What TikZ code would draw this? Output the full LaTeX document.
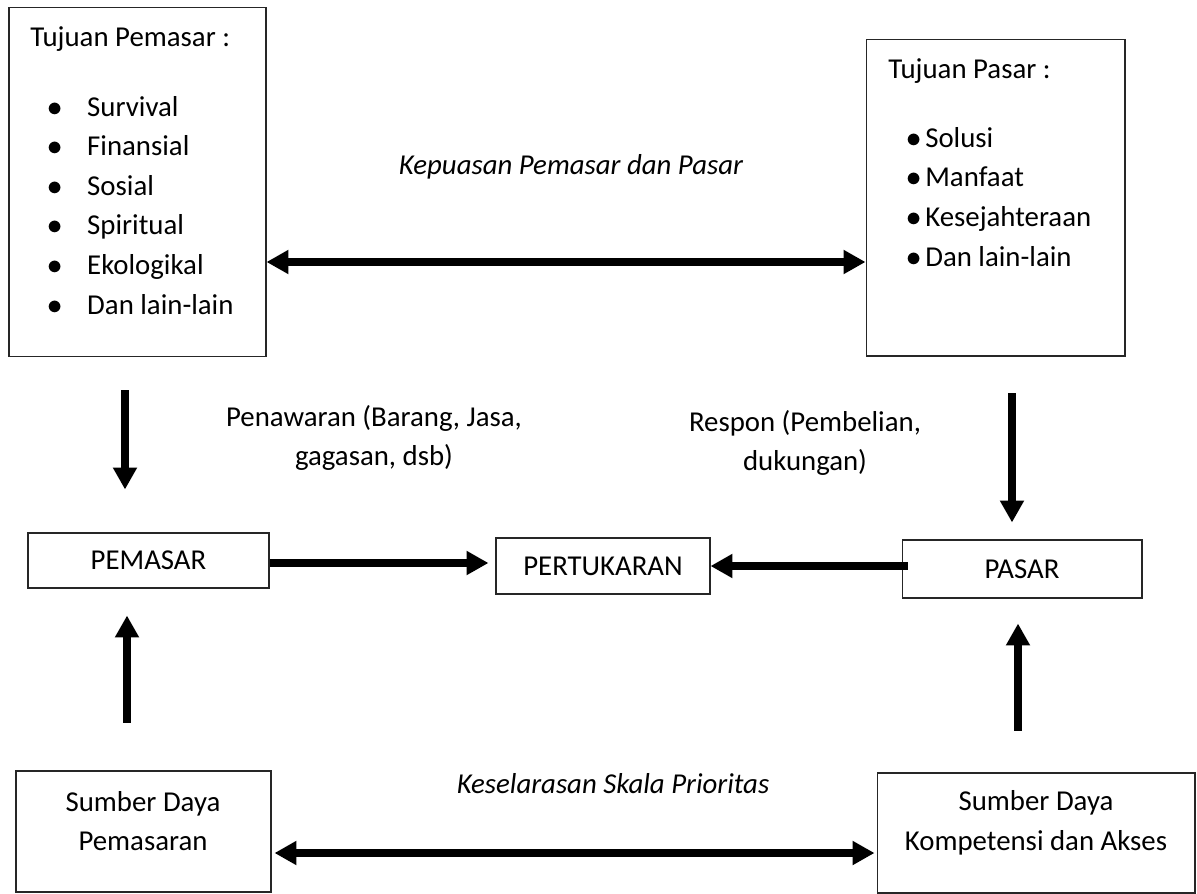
\documentclass[tikz,border=0pt]{standalone}
\usepackage{fontspec}
\setmainfont{Carlito}
\usepackage{tikz}
\usetikzlibrary{positioning, arrows.meta}
\newcommand{\blt}[1]{\makebox[#1][l]{$\bullet$}}
\tikzset{
    kotak/.style={draw=black!85, line width=0.6pt, rectangle, inner sep=0pt},% boxes are drawn empty, their text is set apart
    teks/.style={inner sep=0pt, font=\fontsize{16.4}{22.5}\selectfont},
    panah/.style={-{Triangle[length=12.5pt,width=13pt]}, line width=4.8pt},
    dua/.style={{Triangle[length=12.5pt,width=13pt]}-{Triangle[length=12.5pt,width=13pt]}, line width=4.2pt},
}
\begin{document}
\begin{tikzpicture}[x=0.02cm, y=-0.02cm]
    \useasboundingbox (0,0) rectangle (1197,893);
    % kotak atas
    \node[kotak, minimum width=5.14cm, minimum height=7cm] (tpemasar) at (137.5,182) {};
    \node[kotak, minimum width=5.18cm, minimum height=6.34cm] (tpasar) at (995.5,197.5) {};
    \node[teks, anchor=base west] (jpemasar) at (30,46) {Tujuan Pemasar :};
    \node[teks, anchor=base west] (jpasar) at (888,78) {Tujuan Pasar :};
    % base of a list node is the baseline of its last line
    \node[teks, anchor=base west, align=left] (lpemasar) at (47,314)
        {\blt{22.7pt}Survival\\ \blt{22.7pt}Finansial\\ \blt{22.7pt}Sosial\\
         \blt{22.7pt}Spiritual\\ \blt{22.7pt}Ekologikal\\ \blt{22.7pt}Dan lain-lain};
    \node[teks, anchor=base west, align=left] (lpasar) at (906,266)
        {\blt{10.8pt}Solusi\\ \blt{10.8pt}Manfaat\\ \blt{10.8pt}Kesejahteraan\\ \blt{10.8pt}Dan lain-lain};
    \node[teks, font=\fontsize{16.4}{22.5}\selectfont\itshape] (puas) at (571,167) {Kepuasan Pemasar dan Pasar};
    % kotak tengah
    \node[kotak, teks, minimum width=4.82cm, minimum height=1.10cm] (pemasar) at (148.5,560.5) {PEMASAR};
    \node[kotak, teks, minimum width=4.28cm, minimum height=1.12cm] (tukar) at (603,566) {PERTUKARAN};
    \node[kotak, teks, minimum width=4.80cm, minimum height=1.16cm] (pasar) at (1022,569) {PASAR};
    \node[teks, align=center] (tawar) at (374,438) {Penawaran (Barang, Jasa,\\gagasan, dsb)};
    \node[teks, align=center] (respon) at (805,443) {Respon (Pembelian,\\dukungan)};
    % kotak bawah
    \node[kotak, minimum width=5.10cm, minimum height=2.42cm] (sdpemasar) at (143.5,831.5) {};
    \node[kotak, minimum width=6.36cm, minimum height=2.40cm] (sdkomp) at (1036,833) {};
    \node[teks, align=center] (tsdpemasar) at (143,821) {Sumber Daya\\Pemasaran};
    \node[teks, align=center] (tsdkomp) at (1036,823) {Sumber Daya\\Kompetensi dan Akses};
    \node[teks, font=\fontsize{16.4}{22.5}\selectfont\itshape] (selaras) at (613,784) {Keselarasan Skala Prioritas};
    % panah
    \coordinate (ya) at (0,262);
    \coordinate (yb) at (0,853);
    \coordinate (xa) at (125,0);
    \coordinate (xb) at (1012,0);
    \coordinate (xc) at (127,0);
    \coordinate (xd) at (1018,0);
    \draw[dua] (tpemasar.east |- ya) -- (tpasar.west |- ya);
    \draw[dua] ([xshift=0.06cm]sdpemasar.east |- yb) -- ([xshift=-0.04cm]sdkomp.west |- yb);
    \draw[panah, shorten >=0.14cm] (pemasar.east |- 0,563) -- (tukar.west |- 0,563);
    \draw[panah] ([xshift=0.12cm]pasar.west |- 0,566) -- (tukar.east |- 0,566);
    \draw[panah, shorten <=0.66cm, shorten >=0.86cm] (tpemasar.south -| xa) -- (pemasar.north -| xa);
    \draw[panah, shorten <=0.74cm, shorten >=0.34cm] (tpasar.south -| xb) -- (pasar.north -| xb);
    \draw[panah, shorten <=0.96cm, shorten >=0.54cm] (sdpemasar.north -| xc) -- (pemasar.south -| xc);
    \draw[panah, shorten <=0.84cm, shorten >=0.50cm] (sdkomp.north -| xd) -- (pasar.south -| xd);
\end{tikzpicture}
\end{document}
